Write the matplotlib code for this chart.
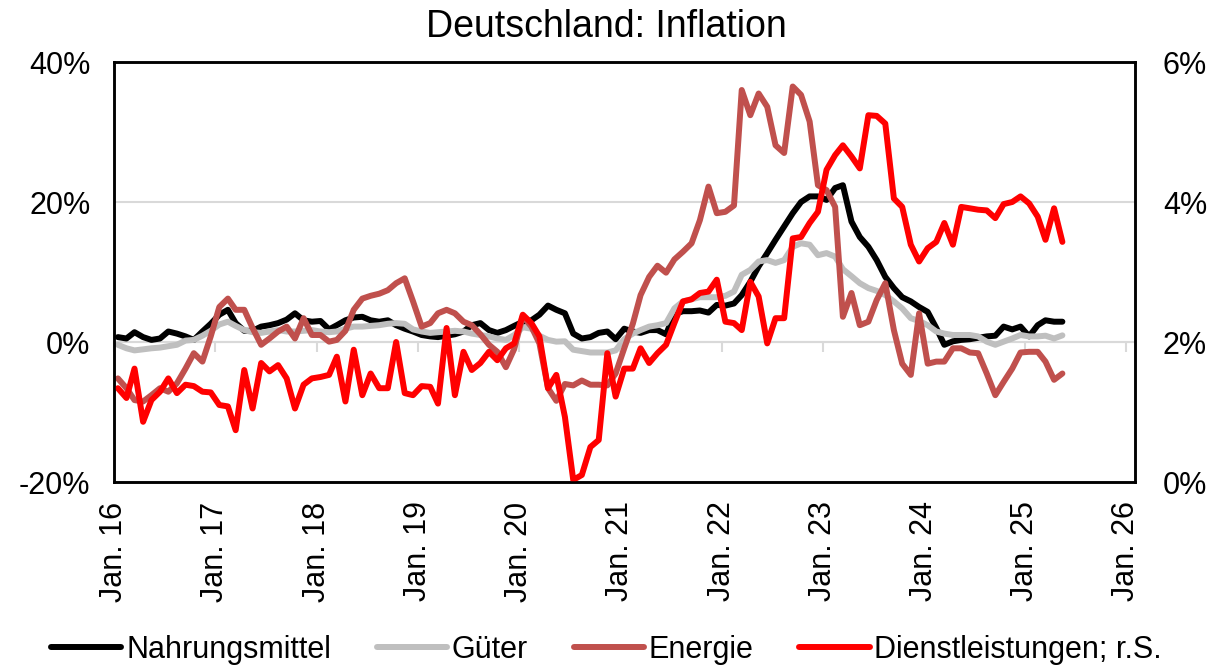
import pandas as pd
import matplotlib
matplotlib.use('Agg')
import matplotlib.pyplot as plt

plt.rcParams['font.family'] = ['Liberation Sans', 'DejaVu Sans']

# monthly values, Jan 2016 - May 2025 (y/y in %)
nahrungsmittel = [0.7, 0.5, 1.4, 0.7, 0.3, 0.5, 1.5, 1.2, 0.8, 0.3, 1.5, 2.6,
                  3.9, 4.6, 2.7, 1.6, 1.6, 2.2, 2.4, 2.7, 3.2, 4.1, 3.1, 2.9,
                  3.0, 1.8, 2.4, 3.1, 3.5, 3.6, 3.1, 2.9, 3.1, 2.4, 1.9, 1.5,
                  1.0, 0.8, 0.7, 0.9, 1.1, 1.5, 2.4, 2.7, 1.7, 1.3, 1.7, 2.3,
                  2.9, 3.1, 3.9, 5.2, 4.6, 4.1, 1.2, 0.5, 0.7, 1.3, 1.5, 0.4,
                  1.9, 1.5, 1.3, 1.7, 1.7, 1.1, 4.0, 4.4, 4.4, 4.5, 4.2, 5.3,
                  5.2, 5.5, 6.7, 8.6, 10.8, 12.7, 14.6, 16.5, 18.4, 20.0, 20.8, 20.8,
                  20.3, 22.0, 22.4, 17.2, 15.0, 13.6, 11.7, 9.3, 7.7, 6.4, 5.8, 5.0,
                  4.3, 2.0, -0.4, 0.1, 0.3, 0.4, 0.6, 0.8, 0.9, 2.2, 1.8, 2.2,
                  0.8, 2.4, 3.1, 2.9, 2.9]
gueter = [-0.4, -0.9, -1.2, -1.05, -0.9, -0.8, -0.6, -0.4, 0.2, 0.3, 0.9, 1.6,
          2.5, 2.9, 2.3, 1.7, 1.4, 1.3, 1.5, 1.7, 1.5, 1.5, 1.6, 1.7,
          1.5, 1.4, 1.5, 1.9, 2.2, 2.2, 2.3, 2.4, 2.6, 2.7, 2.6, 1.8,
          1.5, 1.3, 1.4, 1.5, 1.6, 1.5, 1.2, 1.0, 0.8, 0.5, 0.3, 1.0,
          2.1, 1.9, 0.9, 0.3, 0.05, 0.1, -1.1, -1.3, -1.5, -1.5, -1.5, -1.2,
          0.4, 1.2, 1.7, 2.2, 2.4, 2.7, 4.8, 5.8, 6.1, 6.4, 6.4, 6.4,
          6.6, 7.2, 9.6, 10.3, 11.5, 11.7, 11.3, 11.7, 13.6, 14.1, 13.9, 12.4,
          12.7, 12.2, 10.4, 9.4, 8.4, 7.7, 7.3, 6.7, 5.8, 4.8, 3.4, 3.0,
          2.4, 1.5, 1.2, 1.0, 1.0, 1.0, 0.8, 0.05, -0.4, 0.05, 0.5, 1.0,
          0.8, 0.8, 0.9, 0.5, 0.95]
energie = [-5.2, -6.6, -8.3, -8.5, -7.6, -6.6, -7.1, -5.9, -3.8, -1.6, -2.8, 0.8,
           5.0, 6.2, 4.6, 4.6, 2.0, -0.4, 0.5, 1.5, 2.2, 0.5, 3.4, 1.0,
           1.0, 0.05, 0.3, 1.6, 4.6, 6.2, 6.6, 6.9, 7.4, 8.4, 9.1, 5.8,
           2.2, 2.7, 4.1, 4.6, 4.1, 2.9, 2.4, 1.1, -0.4, -1.4, -3.6, -1.0,
           3.7, 2.2, -0.2, -6.6, -8.4, -6.0, -6.2, -5.5, -6.1, -6.1, -6.2, -4.5,
           -0.9, 2.6, 6.7, 9.3, 10.9, 9.9, 11.8, 12.9, 14.1, 17.4, 22.2, 18.4,
           18.6, 19.5, 36.0, 32.4, 35.5, 33.6, 28.1, 27.0, 36.5, 35.3, 31.5, 22.4,
           21.7, 19.3, 3.6, 7.0, 2.4, 2.9, 6.0, 8.4, 1.7, -3.1, -4.7, 4.1,
           -3.1, -2.8, -2.8, -0.9, -0.9, -1.5, -1.6, -4.5, -7.6, -5.7, -3.8, -1.5,
           -1.4, -1.4, -2.8, -5.4, -4.5]
dienstleistungen = [1.34, 1.20, 1.62, 0.86, 1.17, 1.29, 1.48, 1.27, 1.39, 1.37, 1.29, 1.28,
                    1.10, 1.08, 0.74, 1.60, 1.05, 1.70, 1.58, 1.67, 1.48, 1.05, 1.39, 1.48,
                    1.50, 1.53, 1.79, 1.15, 1.89, 1.24, 1.55, 1.34, 1.34, 2.00, 1.27, 1.24,
                    1.37, 1.36, 1.12, 2.20, 1.24, 1.86, 1.60, 1.70, 1.86, 1.74, 1.91, 1.98,
                    2.39, 2.27, 2.08, 1.34, 1.53, 0.93, 0.03, 0.10, 0.50, 0.60, 1.84, 1.22,
                    1.62, 1.62, 1.91, 1.70, 1.84, 1.96, 2.27, 2.58, 2.61, 2.70, 2.72, 2.89,
                    2.29, 2.27, 2.17, 2.86, 2.65, 1.98, 2.34, 2.34, 3.48, 3.50, 3.70, 3.86,
                    4.46, 4.67, 4.81, 4.65, 4.48, 5.24, 5.23, 5.12, 4.05, 3.93, 3.39, 3.15,
                    3.34, 3.43, 3.70, 3.39, 3.93, 3.91, 3.89, 3.88, 3.77, 3.97, 4.00, 4.08,
                    3.98, 3.79, 3.46, 3.91, 3.43]

dates = pd.date_range('2016-01-01', periods=len(nahrungsmittel), freq='MS') + pd.Timedelta(days=14)
tick_dates = pd.date_range('2016-01-01', '2026-01-01', freq='YS')
tick_labels = ['Jan. 16', 'Jan. 17', 'Jan. 18', 'Jan. 19', 'Jan. 20', 'Jan. 21',
               'Jan. 22', 'Jan. 23', 'Jan. 24', 'Jan. 25', 'Jan. 26']
left_ticks = [-20, 0, 20, 40]
left_labels = ['-20%', '0%', '20%', '40%']
right_ticks = [0, 2, 4, 6]
right_labels = ['0%', '2%', '4%', '6%']

W, H = 1213, 670
fig = plt.figure(figsize=(W / 100, H / 100), dpi=100)
ax = fig.add_axes([114 / W, 1 - 482 / H, (1135 - 114) / W, 420 / H])
ax2 = ax.twinx()

lw = 4.3
kw = dict(linewidth=lw, solid_joinstyle='round', solid_capstyle='round')
l1, = ax.plot(dates, nahrungsmittel, color='#000000', label='Nahrungsmittel', **kw)
l2, = ax.plot(dates, gueter, color='#bfbfbf', label='Güter', **kw)
l3, = ax.plot(dates, energie, color='#c0504d', label='Energie', **kw)
l4, = ax2.plot(dates, dienstleistungen, color='#ff0000', label='Dienstleistungen; r.S.', **kw)

ax.set_xlim(pd.Timestamp('2016-01-01'), pd.Timestamp('2026-02-01'))
ax.set_ylim(-20, 40)
ax2.set_ylim(0, 6)
ax.set_yticks(left_ticks)
ax.set_yticklabels(left_labels)
ax2.set_yticks(right_ticks)
ax2.set_yticklabels(right_labels)
ax.set_xticks(tick_dates)
ax.set_xticklabels(tick_labels, rotation=90)

ax.tick_params(axis='y', length=0, pad=17, labelsize=22)
ax2.tick_params(axis='y', length=0, pad=20, labelsize=22)
ax.tick_params(axis='x', length=0, pad=14, labelsize=22)

ax.yaxis.grid(True, color='#d9d9d9', linewidth=1.5)
ax.set_axisbelow(True)
for a in (ax, ax2):
    for s in a.spines.values():
        s.set_color('black')
        s.set_linewidth(1.8)

# horizontal axis line at 0% with year tick marks
sec = ax.secondary_xaxis(1 / 3)
sec.set_xticks(tick_dates)
sec.tick_params(length=7.5, width=1.5, color='#d9d9d9', labelbottom=False, labeltop=False)
for s in sec.spines.values():
    s.set_color('#d9d9d9')
    s.set_linewidth(1.5)
sec.set_zorder(1)

fig.text(0.5, 1 - 37 / H, 'Deutschland: Inflation', ha='center', va='baseline', fontsize=27)

fig.legend([l1, l2, l3, l4], [l.get_label() for l in (l1, l2, l3, l4)],
           loc='lower center', bbox_to_anchor=(0.5, 0.008), ncol=4, frameon=False,
           fontsize=22, handlelength=2.3, handletextpad=0.15, columnspacing=1.5,
           borderaxespad=0.0, borderpad=0.0)

fig.savefig('out.png', dpi=100)
